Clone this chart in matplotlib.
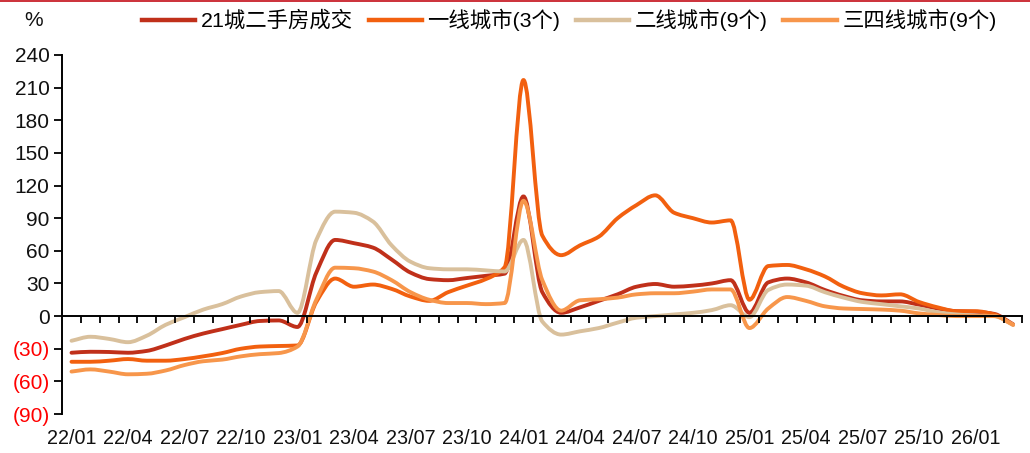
import numpy as np
import matplotlib
matplotlib.use("Agg")
import matplotlib.pyplot as plt
from matplotlib.path import Path
from matplotlib.patches import PathPatch
from matplotlib.lines import Line2D
from matplotlib.font_manager import FontProperties

# Monthly period labels, 22/01 .. 26/03
months = [f"{yy:02d}/{mm:02d}" for yy in range(22, 27) for mm in range(1, 13)][:51]

series_names = ["21城二手房成交", "一线城市(3个)", "二线城市(9个)", "三四线城市(9个)"]

city21 = [-33.7, -32.8, -33, -33.7, -32, -27, -21, -16, -12, -8,
          -4.5, -4, -10, 40, 70, 67, 63, 52, 40, 34,
          33, 35, 37, 39, 110, 22, 3, 8, 14, 20,
          27, 29.5, 27, 28, 30, 33, 3, 31, 34.5, 31,
          24, 18.5, 14.5, 13.5, 13.5, 10.5, 7, 4.5, 4, 2,
          -7.5]
tier1 = [-42, -42, -41, -39.5, -41, -41, -39.5, -37, -34, -30,
         -28, -27.5, -27, 13, 34.5, 27, 29, 25, 18, 14,
         22, 28, 34, 45, 217, 74, 56, 65, 73, 90,
         102, 111, 95, 90, 86, 88, 15, 46, 47, 43,
         36.5, 27, 21, 19, 20, 13, 8, 4.5, 4.5, 1.5,
         -8]
tier2 = [-22.7, -19, -21, -24, -18, -8, -1, 6, 11, 18,
         22, 23, 3, 70, 96, 95, 87, 65, 50, 44,
         43, 43, 42, 41, 70, -5, -17, -14, -11, -6,
         -1.5, 0, 1.5, 3, 5.5, 10, -1, 24, 29, 28,
         22, 17, 13, 11, 9, 7, 3.5, 1.5, 0.5, 0,
         -8]
tier34 = [-51, -49, -51, -53.5, -53, -50, -45, -41.5, -40, -37,
          -35, -34, -28, 15, 44.5, 44, 41, 33, 22, 15,
          12, 12, 11, 12, 106, 33, 5, 14.5, 15.5, 17,
          20, 21, 21, 22.5, 24.5, 24.5, -11, 7, 17.5, 14,
          9, 7, 6.5, 6, 5, 2.5, 1, 0, 0, 0,
          -8]

colors = ["#C0301A", "#F2600F", "#D9C09C", "#F7964B"]
yticks = list(range(-90, 241, 30))

plt.rcParams["font.family"] = ["Liberation Sans", "Noto Sans CJK SC", "DejaVu Sans"]

fig = plt.figure(figsize=(10.3, 4.53), dpi=100)
ax = fig.add_axes([62.1 / 1030, 1 - 414 / 453, 960.4 / 1030, (414 - 55) / 453])


def smooth_path(xs, ys):
    """Smoothed line through the points: cubic Bezier segments with
    monotone (Fritsch-Carlson) tangents, so no overshoot between points."""
    xs = np.asarray(xs, float)
    ys = np.asarray(ys, float)
    n = len(xs)
    h = np.diff(xs)
    d = np.diff(ys) / h
    m = np.zeros(n)
    m[0], m[-1] = d[0], d[-1]
    for i in range(1, n - 1):
        if d[i - 1] * d[i] <= 0:
            m[i] = 0.0
        else:
            w1 = 2 * h[i] + h[i - 1]
            w2 = h[i] + 2 * h[i - 1]
            m[i] = (w1 + w2) / (w1 / d[i - 1] + w2 / d[i])
    verts = [(xs[0], ys[0])]
    codes = [Path.MOVETO]
    for i in range(n - 1):
        dx = h[i] / 3.0
        verts += [(xs[i] + dx, ys[i] + m[i] * dx),
                  (xs[i + 1] - dx, ys[i + 1] - m[i + 1] * dx),
                  (xs[i + 1], ys[i + 1])]
        codes += [Path.CURVE4] * 3
    return Path(verts, codes)


x = np.arange(len(months))
handles = []
for vals, col, name in zip([city21, tier1, tier2, tier34], colors, series_names):
    patch = PathPatch(smooth_path(x, vals), facecolor="none", edgecolor=col,
                      lw=2.8, capstyle="round", joinstyle="round",
                      transform=ax.transData)
    ax.add_patch(patch)
    handles.append(Line2D([], [], color=col, lw=3.2))

ax.set_xlim(-0.5, len(months) - 0.5)
ax.set_ylim(-90, 240)

# Axes styling
for s in ["top", "right"]:
    ax.spines[s].set_visible(False)
ax.spines["bottom"].set_position(("data", 0))
ax.spines["bottom"].set_linewidth(1.4)
ax.spines["left"].set_linewidth(1.4)

ax.set_xticks(np.arange(0.5, len(months), 1.0))
ax.tick_params(axis="x", length=5, width=1.3, direction="out", labelbottom=False)

ax.set_yticks(yticks)
ax.set_yticklabels([str(v) if v >= 0 else f"({-v})" for v in yticks])
ax.tick_params(axis="y", length=6, width=1.3, direction="out", pad=3, labelsize=15)
for lab, v in zip(ax.get_yticklabels(), yticks):
    lab.set_color("#FF0000" if v < 0 else "#111111")

# Period labels along the bottom, every quarter
for i in range(0, len(months), 3):
    ax.text(i, -0.067, months[i], transform=ax.get_xaxis_transform(),
            ha="center", va="center", fontsize=14.2, color="#111111")

fig.text(24 / 1030, 1 - 21 / 453, "%", fontsize=15, ha="left", va="center",
         color="#111111")

fig.legend(handles, series_names, loc="center left",
           bbox_to_anchor=(142 / 1030, 1 - 20 / 453), ncol=4, frameon=False,
           handlelength=2.5, handletextpad=0.25, columnspacing=0.73,
           borderpad=0, borderaxespad=0,
           prop=FontProperties(family=["Liberation Sans", "Noto Sans CJK SC"], size=15.4))

# Thin header rule
fig.add_artist(Line2D([0, 1], [1 - 0.8 / 453] * 2, color="#C8202A", lw=1.3,
                      transform=fig.transFigure))

fig.savefig("out.png", dpi=100)
